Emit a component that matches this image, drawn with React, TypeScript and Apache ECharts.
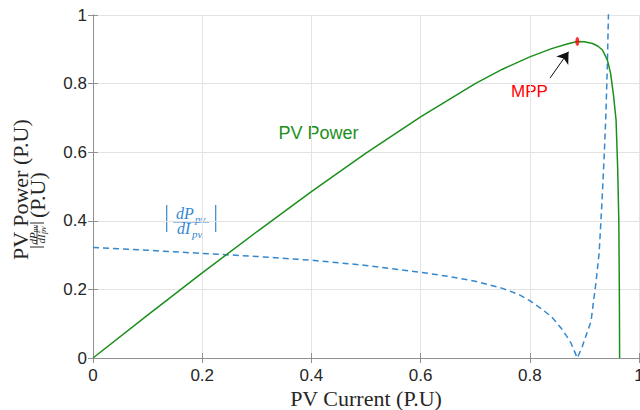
import React, { useEffect, useRef } from "react";
import * as echarts from "echarts";

// PV current (P.U) samples for the power curve
const currentP = [0, 0.1, 0.2, 0.3, 0.4, 0.5, 0.6, 0.7, 0.75, 0.8, 0.84, 0.87, 0.887, 0.9, 0.915, 0.925, 0.933, 0.942, 0.948, 0.953, 0.958, 0.961, 0.963, 0.964, 0.9645];
const powerP = [0, 0.125, 0.248, 0.368, 0.485, 0.597, 0.703, 0.8, 0.842, 0.878, 0.902, 0.916, 0.923, 0.922, 0.917, 0.909, 0.898, 0.869, 0.83, 0.77, 0.694, 0.55, 0.4, 0.2, 0];

// PV current (P.U) samples for |dP/dI|
const currentD = [0, 0.1, 0.2, 0.3, 0.4, 0.5, 0.6, 0.65, 0.7, 0.75, 0.78, 0.8, 0.82, 0.84, 0.86, 0.875, 0.887, 0.896, 0.904, 0.912, 0.921, 0.927, 0.932, 0.936, 0.939, 0.942, 0.944, 0.946];
const derivD = [0.322, 0.314, 0.305, 0.296, 0.285, 0.27, 0.25, 0.238, 0.224, 0.203, 0.185, 0.167, 0.145, 0.12, 0.082, 0.045, 0, 0.033, 0.07, 0.106, 0.218, 0.306, 0.45, 0.58, 0.694, 0.85, 1.0, 1.1];

// Maximum power point
const mpp = [0.887, 0.923];
// Arrow annotation (start, tip) in data units
const arrowStart = [0.837, 0.816];
const arrowTip = [0.871, 0.893];

const xTicks = [0, 0.2, 0.4, 0.6, 0.8, 1];
const yTicks = [0, 0.2, 0.4, 0.6, 0.8, 1];

const GREEN = "#1b8f1b";
const BLUE = "#3388d0";
const AXIS = "#909090";
const TEXT = "#262626";
const SERIF = "'Liberation Serif', 'Times New Roman', serif";
const SANS = "'Liberation Sans', Arial, sans-serif";

export default function App() {
  const ref = useRef<HTMLDivElement>(null);
  useEffect(() => {
    document.body.style.margin = "0";
    const chart = echarts.init(ref.current!, null, { renderer: "svg" });
    const grid = { left: 93, top: 15, width: 546, height: 343, outerBoundsMode: "none", containLabel: false };
    const baseAxis = {
      min: 0,
      max: 1,
      interval: 0.2,
      axisLine: { show: true, lineStyle: { color: AXIS, width: 1 } },
      axisTick: { show: true, inside: true, length: 5, lineStyle: { color: AXIS } },
    };
    const tickLabel = (v: number) => {
      const t = xTicks.concat(yTicks).find((k) => Math.abs(k - v) < 1e-9);
      return t === undefined ? "" : String(t);
    };

    const labelLine2 = [
      { type: "line", shape: { x1: 13, y1: -7, x2: 13, y2: 7 }, style: { stroke: TEXT, lineWidth: 1 } },
      { type: "text", x: 15.5, y: -4, style: { text: "dP", font: `italic 11px ${SERIF}`, fill: TEXT, align: "left", verticalAlign: "middle" } },
      { type: "text", x: 27.5, y: -2, style: { text: "pv", font: `italic 8px ${SERIF}`, fill: TEXT, align: "left", verticalAlign: "middle" } },
      { type: "line", shape: { x1: 15, y1: 0, x2: 35, y2: 0 }, style: { stroke: TEXT, lineWidth: 0.8 } },
      { type: "text", x: 16.5, y: 4, style: { text: "dI", font: `italic 11px ${SERIF}`, fill: TEXT, align: "left", verticalAlign: "middle" } },
      { type: "text", x: 26, y: 6, style: { text: "pv", font: `italic 8px ${SERIF}`, fill: TEXT, align: "left", verticalAlign: "middle" } },
      { type: "line", shape: { x1: 37, y1: -7, x2: 37, y2: 7 }, style: { stroke: TEXT, lineWidth: 1 } },
      { type: "text", x: 42, y: 0, style: { text: "(P.U)", font: `22px ${SERIF}`, fill: TEXT, align: "left", verticalAlign: "middle" } },
    ];

    chart.setOption({
      animation: false,
      backgroundColor: "#ffffff",
      grid,
      xAxis: [
        {
          ...baseAxis,
          type: "value",
          position: "bottom",
          axisLabel: { show: true, color: TEXT, fontSize: 17, fontFamily: SANS, margin: 9, formatter: tickLabel },
          splitLine: { show: true, lineStyle: { color: "#e3e3e3", width: 1 } },
        },
        {
          ...baseAxis,
          type: "value",
          position: "top",
          axisLabel: { show: false },
          splitLine: { show: false },
        },
      ],
      yAxis: [
        {
          ...baseAxis,
          type: "value",
          position: "left",
          axisLabel: { show: true, color: TEXT, fontSize: 17, fontFamily: SANS, margin: 6, formatter: tickLabel },
          splitLine: { show: true, lineStyle: { color: "#e3e3e3", width: 1 } },
        },
        {
          ...baseAxis,
          type: "value",
          position: "right",
          axisLabel: { show: false },
          splitLine: { show: false },
        },
      ],
      series: [
        {
          name: "PV Power",
          type: "line",
          data: currentP.map((x, i) => [x, powerP[i]]),
          showSymbol: false,
          symbol: "none",
          lineStyle: { color: GREEN, width: 1.5 },
          z: 3,
          markLine: {
            silent: true,
            symbol: ["none", "arrow"],
            symbolSize: 11,
            label: { show: false },
            lineStyle: { color: "#111111", width: 1, type: "solid" },
            data: [[{ coord: arrowStart }, { coord: arrowTip }]],
          },
        },
        {
          name: "dPdI",
          type: "line",
          data: currentD.map((x, i) => [x, derivD[i]]),
          showSymbol: false,
          symbol: "none",
          clip: true,
          lineStyle: { color: BLUE, width: 1.5, type: [6, 4] },
          z: 2,
        },
        {
          name: "MPP",
          type: "scatter",
          data: [mpp],
          symbol: "circle",
          symbolSize: [4, 9],
          itemStyle: { color: "#ff0000" },
          z: 5,
        },
      ],
      graphic: [
        { type: "text", x: 318.5, y: 133, style: { text: "PV Power", font: `18px ${SANS}`, fill: GREEN, align: "center", verticalAlign: "middle" } },
        { type: "text", x: 529.5, y: 91, style: { text: "MPP", font: `17px ${SANS}`, fill: "#ff0000", align: "center", verticalAlign: "middle" } },
        { type: "text", x: 366, y: 398, style: { text: "PV Current (P.U)", font: `22px ${SERIF}`, fill: TEXT, align: "center", verticalAlign: "middle" } },
        // blue in-plot label |dPpv/dIpv|
        { type: "line", shape: { x1: 166.7, y1: 205, x2: 166.7, y2: 232 }, style: { stroke: BLUE, lineWidth: 1.2 } },
        { type: "text", x: 176, y: 213, style: { text: "dP", font: `italic 16px ${SERIF}`, fill: BLUE, align: "left", verticalAlign: "middle" } },
        { type: "text", x: 195, y: 219, style: { text: "pv", font: `italic 11px ${SERIF}`, fill: BLUE, align: "left", verticalAlign: "middle" } },
        { type: "line", shape: { x1: 173, y1: 222, x2: 209, y2: 222 }, style: { stroke: BLUE, lineWidth: 1 } },
        { type: "text", x: 177, y: 228.5, style: { text: "dI", font: `italic 16px ${SERIF}`, fill: BLUE, align: "left", verticalAlign: "middle" } },
        { type: "text", x: 192, y: 234, style: { text: "pv", font: `italic 11px ${SERIF}`, fill: BLUE, align: "left", verticalAlign: "middle" } },
        { type: "line", shape: { x1: 215.7, y1: 205, x2: 215.7, y2: 232 }, style: { stroke: BLUE, lineWidth: 1.2 } },
        // rotated y-axis label, line 1
        {
          type: "group",
          x: 20.6,
          y: 260,
          rotation: Math.PI / 2,
          children: [
            { type: "text", x: 0, y: 0, style: { text: "PV Power (P.U)", font: `22px ${SERIF}`, fill: TEXT, align: "left", verticalAlign: "middle" } },
          ],
        },
        // rotated y-axis label, line 2
        {
          type: "group",
          x: 37,
          y: 260,
          rotation: Math.PI / 2,
          children: labelLine2,
        },
      ],
    });
    return () => chart.dispose();
  }, []);
  return <div ref={ref} style={{ width: 640, height: 410 }} />;
}
